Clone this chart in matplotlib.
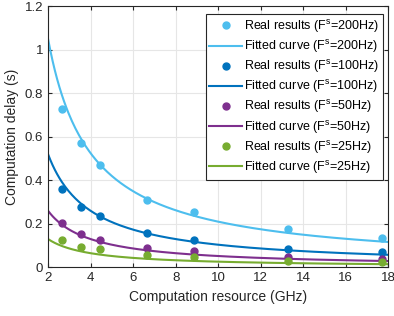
import numpy as np
import matplotlib
matplotlib.use("Agg")
import matplotlib.pyplot as plt

plt.rcParams['font.family'] = ['Liberation Sans', 'DejaVu Sans']
plt.rcParams['mathtext.fontset'] = 'custom'
plt.rcParams['mathtext.rm'] = 'Liberation Sans'
plt.rcParams['mathtext.it'] = 'Liberation Sans'

# measured computation resources (GHz)
resource = [2.66, 3.54, 4.43, 6.65, 8.86, 13.3, 17.73]

# measured delays (s) per sampling frequency
delay_200 = [0.727, 0.571, 0.470, 0.310, 0.253, 0.176, 0.134]
delay_100 = [0.360, 0.277, 0.234, 0.159, 0.126, 0.085, 0.070]
delay_50 = [0.203, 0.154, 0.126, 0.088, 0.073, 0.047, 0.038]
delay_25 = [0.126, 0.093, 0.084, 0.057, 0.047, 0.030, 0.024]

# fitted model: delay = coef / resource
fit_coef = [2.10, 1.04, 0.52, 0.26]

freqs = ['200Hz', '100Hz', '50Hz', '25Hz']
colors = ['#4DBEEE', '#0072BD', '#7E2F8E', '#77AC30']
series = [delay_200, delay_100, delay_50, delay_25]

fig = plt.figure(figsize=(3.94, 3.16), dpi=100)
ax = fig.add_axes([0.122, 0.154, 0.863, 0.826])

x_fit = np.linspace(2, 18, 300)
for delays, coef, fq, c in zip(series, fit_coef, freqs, colors):
    ax.plot(resource, delays, linestyle='none', marker='o', markersize=5,
            color=c, label=r'Real results (F$^{\mathrm{s}}$=' + fq + ')')
    ax.plot(x_fit, coef / x_fit, '-', color=c, lw=1.5,
            label=r'Fitted curve (F$^{\mathrm{s}}$=' + fq + ')')

ax.set_xlim(2, 18)
ax.set_ylim(0, 1.2)
ax.set_xticks(np.arange(2, 19, 2))
yt = np.arange(0, 1.21, 0.2)
ax.set_yticks(yt)
ax.set_yticklabels(['%g' % round(v, 1) for v in yt])
ax.tick_params(direction='in', top=True, right=True, labelsize=9.5, length=3,
               colors='#262626')
for s in ax.spines.values():
    s.set_color('#262626')
    s.set_linewidth(0.8)
ax.grid(True, color='#e6e6e6', linewidth=0.8)
ax.set_axisbelow(True)
ax.set_xlabel('Computation resource (GHz)', fontsize=10, color='#262626')
ax.set_ylabel('Computation delay (s)', fontsize=10, color='#262626')

leg = ax.legend(loc='upper right', fontsize=9, fancybox=False, framealpha=1,
                edgecolor='#262626', borderpad=0.3, labelspacing=0.25,
                handlelength=2.6, handletextpad=0.2, borderaxespad=0,
                bbox_to_anchor=(0.985, 0.970))
leg.get_frame().set_linewidth(0.8)

fig.savefig('out.png', dpi=100)
